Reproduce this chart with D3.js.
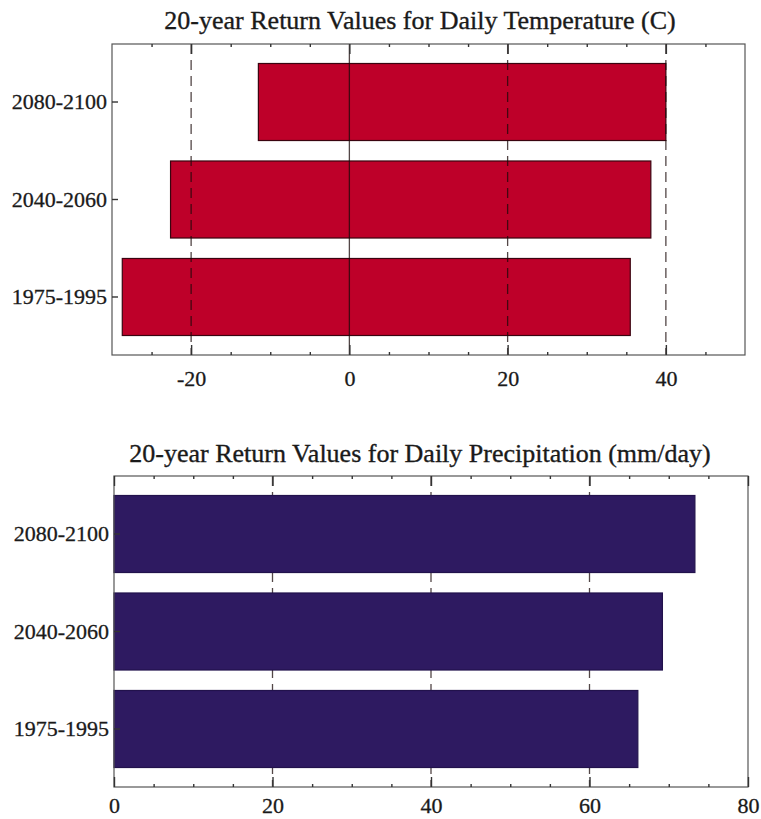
<!DOCTYPE html>
<html>
<head>
<meta charset="utf-8">
<script src="https://cdn.jsdelivr.net/npm/d3@7"></script>
<style>
  html, body { margin: 0; padding: 0; background: #fff; }
  svg { display: block; }
  text { font-family: "Liberation Serif", "DejaVu Serif", serif; fill: #1a1a1a; }
</style>
</head>
<body>
<svg id="chart" width="761" height="819"></svg>
<script>
// Time periods (top to bottom)
const periods = ["2080-2100", "2040-2060", "1975-1995"];

// 20-year return values of daily temperature (C): cold extreme and hot extreme
const tempLow  = [-11.5, -22.6, -28.7];
const tempHigh = [40.0, 38.1, 35.5];

// 20-year return values of daily precipitation (mm/day)
const precipHigh = [73.3, 69.2, 66.1];

// Axis ticks
const tempTicks = [-20, 0, 20, 40];
const tempMinor = d3.range(-25, 50, 5).filter(v => !tempTicks.includes(v));
const precipTicks = [0, 20, 40, 60, 80];
const precipMinor = d3.range(5, 80, 5).filter(v => !precipTicks.includes(v));

const svg = d3.select("#chart");

function panel(opts) {
  const { title, titleY, domain, left, right, top, bottom, lows, highs,
          ticks, minor, grid, solidZero, fill, stroke, gridOnTop, labelPad } = opts;

  const x = d3.scaleLinear().domain(domain).range([left, right]);
  const y = d3.scaleBand().domain(periods).range([top, bottom])
    .paddingInner(0.21).paddingOuter(0.2);

  const g = svg.append("g");

  g.append("text")
    .attr("x", 420).attr("y", titleY)
    .attr("text-anchor", "middle")
    .style("font-size", "26px")
    .attr("stroke", "#1a1a1a").attr("stroke-width", 0.35)
    .text(title);

  const gridG = g.append("g");
  const barsG = g.append("g");
  if (gridOnTop) gridG.raise();

  // bars
  barsG.selectAll("rect")
    .data(periods)
    .join("rect")
    .attr("x", (d, i) => x(lows[i]))
    .attr("y", d => y(d))
    .attr("width", (d, i) => x(highs[i]) - x(lows[i]))
    .attr("height", y.bandwidth())
    .attr("fill", fill)
    .attr("stroke", stroke)
    .attr("stroke-width", 1.2);

  // vertical grid lines at major ticks
  gridG.selectAll("line.grid")
    .data(grid)
    .join("line")
    .attr("class", "grid")
    .attr("x1", d => x(d)).attr("x2", d => x(d))
    .attr("y1", top).attr("y2", bottom)
    .attr("stroke", "#1a0a0a")
    .attr("stroke-opacity", 0.75)
    .attr("stroke-width", 1.3)
    .attr("stroke-dasharray", d => (solidZero && d === 0) ? null : "10,6");

  // frame
  g.append("rect")
    .attr("x", left).attr("y", top)
    .attr("width", right - left).attr("height", bottom - top)
    .attr("fill", "none")
    .attr("stroke", "#555")
    .attr("stroke-width", 1.2);

  // bottom axis with labels, ticks pointing into the plot
  const xb = g.append("g").attr("transform", `translate(0,${bottom})`)
    .call(d3.axisBottom(x).tickValues(ticks).tickSize(-10).tickPadding(labelPad)
      .tickFormat(d => String(d)));
  xb.selectAll("text").style("font-size", "22px").attr("fill", "#1a1a1a")
    .attr("stroke", "#1a1a1a").attr("stroke-width", 0.3);

  const xbm = g.append("g").attr("transform", `translate(0,${bottom})`)
    .call(d3.axisBottom(x).tickValues(minor).tickSize(-3).tickFormat(""));

  // top axis ticks
  const xt = g.append("g").attr("transform", `translate(0,${top})`)
    .call(d3.axisTop(x).tickValues(ticks).tickSize(-10).tickFormat(""));
  const xtm = g.append("g").attr("transform", `translate(0,${top})`)
    .call(d3.axisTop(x).tickValues(minor).tickSize(-3).tickFormat(""));

  // period labels on the left
  const ya = g.append("g").attr("transform", `translate(${left},0)`)
    .call(d3.axisLeft(y).tickSize(-6).tickPadding(5));
  ya.selectAll("text").style("font-size", "22px").attr("fill", "#1a1a1a")
    .attr("stroke", "#1a1a1a").attr("stroke-width", 0.3);

  [xb, xbm, xt, xtm, ya].forEach(a => {
    a.select(".domain").remove();
    a.selectAll(".tick line").attr("stroke", "#333").attr("stroke-width", 1.4);
  });
}

panel({
  title: "20-year Return Values for Daily Temperature (C)",
  titleY: 29,
  domain: [-30, 50], left: 112, right: 745, top: 44, bottom: 355,
  lows: tempLow, highs: tempHigh,
  ticks: tempTicks, minor: tempMinor,
  grid: [-20, 0, 20, 40], solidZero: true,
  fill: "#be0029", stroke: "#3a0410", gridOnTop: true, labelPad: 15
});

panel({
  title: "20-year Return Values for Daily Precipitation (mm/day)",
  titleY: 462,
  domain: [0, 80], left: 114, right: 748, top: 476, bottom: 787,
  lows: [0, 0, 0], highs: precipHigh,
  ticks: precipTicks, minor: precipMinor,
  grid: [20, 40, 60], solidZero: false,
  fill: "#2e1a61", stroke: "#22124c", gridOnTop: false, labelPad: 10
});
</script>
</body>
</html>
